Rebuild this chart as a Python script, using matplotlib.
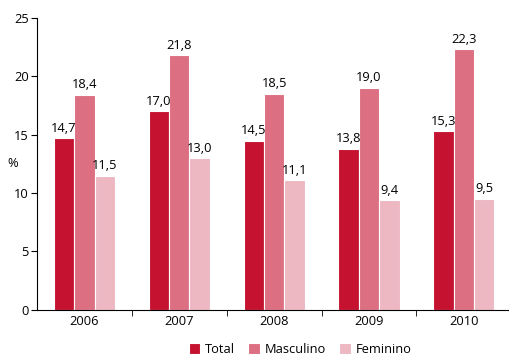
import numpy as np
import matplotlib.pyplot as plt

plt.rcParams['font.family'] = ['Open Sans', 'DejaVu Sans']

years = ['2006', '2007', '2008', '2009', '2010']
total = [14.7, 17.0, 14.5, 13.8, 15.3]
masculino = [18.4, 21.8, 18.5, 19.0, 22.3]
feminino = [11.5, 13.0, 11.1, 9.4, 9.5]

series = [('Total', total, '#c41230'),
          ('Masculino', masculino, '#dc7082'),
          ('Feminino', feminino, '#edb8c2')]

fig = plt.figure(figsize=(5.10, 3.57), dpi=100)
ax = fig.add_axes([0.0725, 0.132, 0.93, 0.818])

x = np.arange(len(years))
w = 0.215
for i, (name, vals, col) in enumerate(series):
    pos = x + (i - 1) * w
    ax.bar(pos, vals, w, color=col, edgecolor='white', linewidth=0.8, label=name)
    for xp, v in zip(pos, vals):
        ax.text(xp, v + 0.3, f'{v:.1f}'.replace('.', ','), ha='center', va='bottom', fontsize=9.3)

ax.set_xlim(-0.5, len(years) - 0.5)
ax.set_ylim(0, 25)
ax.set_yticks([0, 5, 10, 15, 20, 25])
ax.set_xticks(x)
ax.set_xticklabels(years)
ax.set_xticks(np.arange(0.5, len(years) - 1, 1), minor=True)
ax.tick_params(axis='x', which='major', length=0, labelsize=9.3, pad=4)
ax.tick_params(axis='x', which='minor', length=4, direction='out')
ax.tick_params(axis='y', length=4, labelsize=9.3, pad=2)
ax.spines['top'].set_visible(False)
ax.spines['right'].set_visible(False)
ax.set_ylabel('%', rotation=0, fontsize=9.3, va='center')
ax.yaxis.set_label_coords(-0.052, 0.5)

ax.legend(loc='lower center', bbox_to_anchor=(0.555, -0.185), ncol=3, frameon=False,
          fontsize=9.3, handlelength=0.9, handleheight=0.9, handletextpad=0.4,
          columnspacing=1.0, borderpad=0.1)

fig.savefig('out.png', dpi=100)
